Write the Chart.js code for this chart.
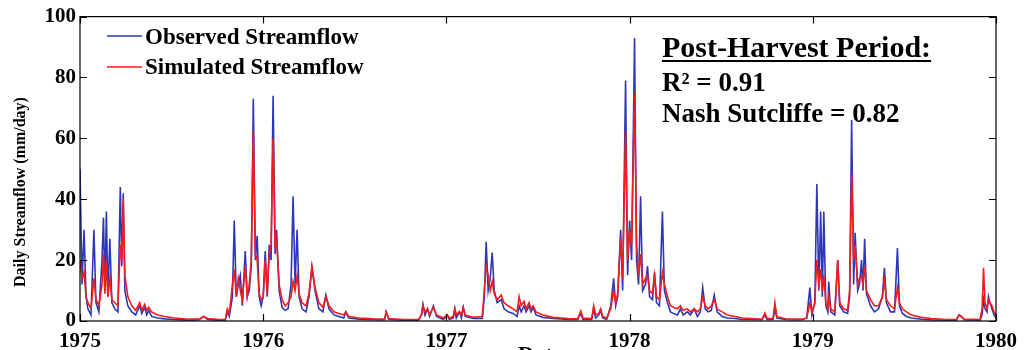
<!DOCTYPE html>
<html>
<head>
<meta charset="utf-8">
<script src="https://cdn.jsdelivr.net/npm/chart.js@4.4.1/dist/chart.umd.min.js"></script>
<style>
  html, body { margin: 0; padding: 0; background: #fff; }
  canvas { display: block; }
</style>
</head>
<body>
<canvas id="flow-chart" width="1025" height="350"></canvas>
<script>
// ── Data (decimal year, daily streamflow mm/day) ────────────────────────
const years = [
  1975.000, 1975.011, 1975.022, 1975.033, 1975.043, 1975.060, 1975.076, 1975.087, 1975.103, 1975.120,
  1975.128, 1975.136, 1975.144, 1975.152, 1975.163, 1975.174, 1975.190, 1975.207, 1975.220, 1975.228,
  1975.236, 1975.245, 1975.261, 1975.283, 1975.304, 1975.326, 1975.337, 1975.353, 1975.364, 1975.375,
  1975.391, 1975.424, 1975.462, 1975.516, 1975.598, 1975.652, 1975.674, 1975.696, 1975.761, 1975.793,
  1975.804, 1975.815, 1975.832, 1975.842, 1975.853, 1975.864, 1975.875, 1975.886, 1975.902, 1975.913,
  1975.924, 1975.935, 1975.946, 1975.957, 1975.967, 1975.978, 1975.989, 1976.000, 1976.011, 1976.022,
  1976.033, 1976.043, 1976.054, 1976.065, 1976.073, 1976.087, 1976.103, 1976.120, 1976.136, 1976.152,
  1976.163, 1976.174, 1976.185, 1976.196, 1976.212, 1976.234, 1976.250, 1976.266, 1976.283, 1976.304,
  1976.326, 1976.342, 1976.359, 1976.386, 1976.413, 1976.440, 1976.451, 1976.467, 1976.522, 1976.603,
  1976.663, 1976.671, 1976.685, 1976.766, 1976.848, 1976.864, 1976.872, 1976.883, 1976.897, 1976.908,
  1976.929, 1976.946, 1976.984, 1977.005, 1977.016, 1977.038, 1977.046, 1977.054, 1977.071, 1977.082,
  1977.092, 1977.103, 1977.147, 1977.196, 1977.207, 1977.217, 1977.228, 1977.239, 1977.250, 1977.261,
  1977.277, 1977.299, 1977.315, 1977.337, 1977.364, 1977.386, 1977.397, 1977.408, 1977.424, 1977.435,
  1977.451, 1977.462, 1977.473, 1977.489, 1977.527, 1977.582, 1977.663, 1977.717, 1977.734, 1977.745,
  1977.793, 1977.804, 1977.815, 1977.832, 1977.842, 1977.853, 1977.875, 1977.897, 1977.913, 1977.924,
  1977.935, 1977.951, 1977.962, 1977.978, 1977.989, 1978.000, 1978.011, 1978.027, 1978.038, 1978.049,
  1978.060, 1978.071, 1978.087, 1978.098, 1978.109, 1978.125, 1978.136, 1978.147, 1978.163, 1978.179,
  1978.190, 1978.207, 1978.223, 1978.239, 1978.261, 1978.277, 1978.293, 1978.315, 1978.332, 1978.353,
  1978.370, 1978.386, 1978.399, 1978.413, 1978.429, 1978.446, 1978.462, 1978.478, 1978.505, 1978.533,
  1978.576, 1978.614, 1978.668, 1978.723, 1978.739, 1978.750, 1978.783, 1978.793, 1978.804, 1978.859,
  1978.940, 1978.967, 1978.984, 1978.995, 1979.011, 1979.022, 1979.033, 1979.043, 1979.052, 1979.060,
  1979.071, 1979.082, 1979.087, 1979.098, 1979.120, 1979.136, 1979.147, 1979.168, 1979.190, 1979.201,
  1979.212, 1979.223, 1979.231, 1979.245, 1979.255, 1979.266, 1979.274, 1979.283, 1979.293, 1979.315,
  1979.337, 1979.359, 1979.380, 1979.391, 1979.402, 1979.424, 1979.446, 1979.462, 1979.473, 1979.489,
  1979.511, 1979.538, 1979.592, 1979.647, 1979.728, 1979.783, 1979.799, 1979.810, 1979.826, 1979.913,
  1979.924, 1979.932, 1979.940, 1979.951, 1979.959, 1979.967, 1979.978, 1979.989, 1980.000
];

const observed = [
  50, 12, 30, 8, 4, 2, 30, 6, 3, 20,
  34, 10, 36, 8, 27, 6, 4, 3, 44, 18,
  42, 10, 5, 3, 2, 5, 2.5, 4.5, 2, 3.5,
  1.5, 1, 0.7, 0.5, 0.3, 0.4, 1.5, 0.5, 0.3, 0.3,
  3, 1.5, 8, 33, 8, 12, 15, 5, 23, 8,
  10, 18, 73, 20, 28, 8, 5, 8, 23, 8,
  25, 20, 74, 22, 30, 10, 4.5, 3.5, 4, 12,
  41, 12, 30, 8, 4, 3, 8, 17.5, 10, 4,
  3, 8.5, 4, 2, 1.5, 1, 3, 1, 0.6, 0.4,
  0.4, 3, 0.5, 0.3, 0.3, 2, 5.5, 2, 4, 1.5,
  5, 1.5, 0.5, 2, 0.5, 1, 4, 1, 3, 1,
  4.5, 1.5, 0.8, 0.8, 8, 26, 10, 14, 22.5, 10,
  6, 7, 4, 3, 2.5, 1.5, 5, 3, 5, 3,
  5, 3, 4.5, 2, 1.2, 0.8, 0.5, 0.5, 2.5, 0.5,
  0.5, 4, 1, 2, 3.5, 1, 0.5, 5, 14, 5,
  8, 30, 10, 79, 15, 33, 20, 93, 20, 12,
  41, 10, 12, 18, 8, 7, 16, 6, 5, 36,
  10, 6, 3, 2.5, 2, 4, 2, 3, 2, 4,
  1.5, 3, 11, 4, 3, 3.5, 8.5, 3, 1.5, 1,
  0.8, 0.5, 0.5, 0.4, 2, 0.5, 0.5, 4, 1, 0.4,
  0.4, 1, 11, 2, 6, 45, 10, 36, 8, 36,
  5, 3, 13, 3, 2, 20, 5, 3, 2.5, 8,
  66, 12, 29, 10, 12, 20, 10, 27, 9, 5,
  3, 4, 8, 17.5, 6, 3, 3, 24, 5, 2.5,
  1.5, 1, 0.6, 0.4, 0.3, 0.3, 2, 1.5, 0.4, 0.3,
  2, 7, 4, 3, 8, 6, 4, 2, 1
];

const simulated = [
  20, 14, 16, 8, 6, 4, 14, 7, 5, 12,
  22, 9, 20, 8, 14, 7, 6, 5, 25, 20,
  40, 15, 8, 5, 3.5, 6, 3.5, 5.5, 3.5, 4.5,
  3, 2, 1.5, 1, 0.6, 0.6, 1.5, 0.8, 0.5, 0.5,
  4, 2.5, 12, 17, 8, 14, 10, 7, 18, 8,
  12, 20, 62, 22, 20, 9, 7, 8, 20, 9,
  22, 25, 60, 24, 27, 12, 7, 5, 6, 8,
  13, 10, 15, 9, 6, 5, 9, 18, 11, 6,
  4.5, 8, 5, 3, 2.5, 2, 3, 1.5, 1, 0.7,
  0.6, 3, 0.8, 0.5, 0.5, 2, 5, 3, 4, 2,
  4.5, 2, 1, 2, 1, 1.5, 4, 2, 3, 2,
  4.5, 2, 1.2, 1.5, 10, 18, 15, 10, 13, 9,
  7, 8.5, 6, 5, 4, 3, 8, 5, 6.5, 4,
  6, 4, 5, 3, 2, 1.2, 0.8, 0.7, 3.3, 1,
  0.8, 5, 2, 2.5, 4, 1.5, 1, 4, 10, 6,
  9, 27, 14, 62, 20, 30, 25, 75, 25, 15,
  22, 12, 14, 15, 10, 9, 15, 8, 7, 16,
  12, 8, 5, 4.5, 4, 5, 3.5, 4, 3, 4,
  3, 4, 8, 5, 4, 5, 7, 4, 3, 2,
  1.5, 1, 0.8, 0.6, 2.6, 0.8, 0.8, 6, 1.5, 0.6,
  0.6, 1, 6, 3, 6, 20, 12, 17, 10, 15,
  6, 4, 8, 4, 3, 20, 6, 4, 3.5, 10,
  48, 20, 25, 12, 14, 15, 12, 18, 10, 7,
  5, 5, 8, 13, 7, 5, 4, 11, 6, 4,
  3, 2, 1.2, 0.8, 0.5, 0.5, 2, 1.5, 0.6, 0.5,
  4, 17.5, 6, 4, 7, 6, 5, 3, 2
];

const yearTicks = [1975, 1976, 1977, 1978, 1979, 1980];
const seriesLabels = ['Observed Streamflow', 'Simulated Streamflow'];
const statLines = ['Post-Harvest Period:', 'R\u00B2 = 0.91', 'Nash Sutcliffe = 0.82'];

const BLUE = '#2f37b4';
const RED = '#f51c1c';
const SERIF = '"Liberation Serif", "Times New Roman", serif';

// ── Plugins: text overlays + MATLAB-style box with inner ticks ─────────
const overlayText = {
  id: 'overlayText',
  beforeDatasetsDraw(chart) {
    const ctx = chart.ctx;
    ctx.save();
    ctx.fillStyle = '#000';
    ctx.textBaseline = 'alphabetic';
    ctx.textAlign = 'left';

    // legend
    ctx.font = `bold 23px ${SERIF}`;
    [[BLUE, 36, 44], [RED, 67, 74]].forEach(([col, ly, ty], i) => {
      ctx.strokeStyle = col;
      ctx.lineWidth = 1.5;
      ctx.beginPath();
      ctx.moveTo(107, ly);
      ctx.lineTo(142, ly);
      ctx.stroke();
      ctx.fillText(seriesLabels[i], 145, ty);
    });

    // stats block
    ctx.font = `bold 30px ${SERIF}`;
    ctx.fillText(statLines[0], 662, 57);
    const w = ctx.measureText(statLines[0]).width;
    ctx.fillRect(662, 60, w, 2);
    ctx.font = `bold 27px ${SERIF}`;
    ctx.fillText(statLines[1], 662, 91);
    ctx.fillText(statLines[2], 662, 122);

    // y axis title
    ctx.save();
    ctx.translate(21, 192);
    ctx.rotate(-Math.PI / 2);
    ctx.textAlign = 'center';
    ctx.textBaseline = 'middle';
    ctx.font = `bold 16px ${SERIF}`;
    ctx.fillText('Daily Streamflow (mm/day)', 0, 0);
    ctx.restore();

    // x axis title (cut off at bottom edge)
    ctx.font = `bold 22px ${SERIF}`;
    ctx.textAlign = 'center';
    ctx.fillText('Date', 540, 361);
    ctx.restore();
  }
};

const boxTicks = {
  id: 'boxTicks',
  afterDraw(chart) {
    const { ctx, chartArea: a, scales: { x, y } } = chart;
    const len = 7;
    ctx.save();
    ctx.strokeStyle = '#000';
    ctx.lineWidth = 1.2;
    ctx.strokeRect(a.left, a.top, a.right - a.left, a.bottom - a.top);
    ctx.beginPath();
    y.ticks.forEach(t => {
      const py = Math.round(y.getPixelForValue(t.value)) + 0.5;
      ctx.moveTo(a.left, py); ctx.lineTo(a.left + len, py);
      ctx.moveTo(a.right, py); ctx.lineTo(a.right - len, py);
    });
    x.ticks.forEach(t => {
      const px = Math.round(x.getPixelForValue(t.value)) + 0.5;
      ctx.moveTo(px, a.bottom); ctx.lineTo(px, a.bottom - len);
      ctx.moveTo(px, a.top); ctx.lineTo(px, a.top + len);
    });
    ctx.stroke();
    ctx.restore();
  }
};

// ── Chart.js ─────────────────────────────────────────────────────────────
const toPoints = vals => years.map((yr, i) => ({ x: yr, y: vals[i] }));

new Chart(document.getElementById('flow-chart'), {
  type: 'line',
  data: {
    datasets: [
      {
        label: seriesLabels[1],
        data: toPoints(simulated),
        borderColor: RED,
        borderWidth: 1.6,
        pointRadius: 0,
        tension: 0,
        order: 0
      },
      {
        label: seriesLabels[0],
        data: toPoints(observed),
        borderColor: BLUE,
        borderWidth: 1.6,
        pointRadius: 0,
        tension: 0,
        order: 1
      }
    ]
  },
  options: {
    responsive: false,
    animation: false,
    layout: { padding: { top: 14, right: 25, left: 0, bottom: 0 } },
    plugins: {
      legend: { display: false },
      tooltip: { enabled: false }
    },
    scales: {
      x: {
        type: 'linear',
        min: yearTicks[0],
        max: yearTicks[yearTicks.length - 1],
        afterBuildTicks: s => { s.ticks = yearTicks.map(v => ({ value: v })); },
        afterFit: s => { s.height = 29; },
        grid: { display: false, drawTicks: false },
        border: { display: false },
        ticks: {
          color: '#000',
          padding: 8,
          maxRotation: 0,
          font: { family: SERIF, size: 21, weight: 'bold' },
          callback: v => String(v)
        }
      },
      y: {
        min: 0,
        max: 100,
        afterFit: s => { s.width = 80; },
        grid: { display: false, drawTicks: false },
        border: { display: false },
        ticks: {
          stepSize: 20,
          color: '#000',
          padding: 4,
          font: { family: SERIF, size: 21, weight: 'bold' }
        }
      }
    }
  },
  plugins: [overlayText, boxTicks]
});
</script>
</body>
</html>
